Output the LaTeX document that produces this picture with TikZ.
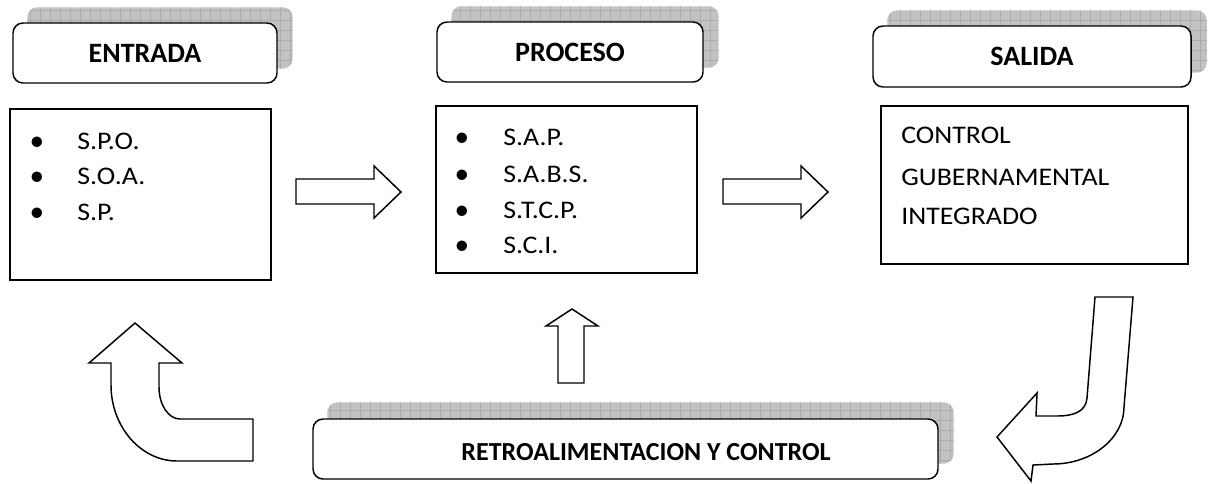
\documentclass[tikz,border=0pt]{standalone}
\usepackage{fontspec}
\setmainfont{Carlito}
\newfontfamily\bodyfont[FakeStretch=1.1]{Carlito}
\usetikzlibrary{backgrounds}
\begin{document}
\begin{tikzpicture}[x=0.75pt,y=-0.75pt,
  outline/.style={line width=1.1pt, line join=miter},
  header/.style={draw, fill=white, outline, rounded corners=7.5pt, inner sep=0pt,
    font=\bfseries\fontsize{21}{25}\selectfont},
  panel/.style={draw, fill=white, outline, inner sep=0pt},
  hatchshadow/.style={fill=gray!48, rounded corners=7.5pt,
    path picture={\draw[gray!66, line width=0.5pt]
      (path picture bounding box.south west) grid[step=7.5pt]
      (path picture bounding box.north east);}},
  item/.style={anchor=base west, inner sep=0pt, font=\bodyfont\fontsize{19}{22}\selectfont},
  dot/.style={anchor=base, inner sep=0pt, font=\fontsize{22}{24}\selectfont},
  blockarrow/.style={draw, fill=white, outline}
]
\useasboundingbox (0,0) rectangle (1212,483);

% header boxes
\node[header, minimum width=198pt, minimum height=45pt] (eh) at (145,53) {ENTRADA};
\node[header, minimum width=199.5pt, minimum height=45pt] (ph) at (570,52) {PROCESO};
\node[header, minimum width=238.5pt, minimum height=45.75pt] (sh) at (1032,56.5) {SALIDA};
\node[header, minimum width=468.75pt, minimum height=45pt] (rh) at (625.5,449) {};
\node[inner sep=0pt, font=\bfseries\fontsize{19.5}{23}\selectfont] (rt) at (646,452) {RETROALIMENTACION Y CONTROL};

% hatched shadows behind the headers
\begin{scope}[on background layer]
  \foreach \n in {eh,ph,sh}
    \path[hatchshadow] ([shift={(15,-15)}]\n.south west) rectangle ([shift={(15,-15)}]\n.north east);
  \path[hatchshadow] ([shift={(15,-16)}]rh.south west) rectangle ([shift={(15,-16)}]rh.north east);
\end{scope}

% content panels
\node[panel, minimum width=195.75pt, minimum height=128.25pt] (eb) at (140.5,194.5) {};
\node[panel, minimum width=195.75pt, minimum height=125.25pt] (pb) at (566.5,189.5) {};
\node[panel, minimum width=230.25pt, minimum height=118.5pt] (sb) at (1034.5,185) {};

% ENTRADA items
\node[dot] (e1b) at (37,150) {•};
\node[item] (e1) at (77,149) {S.P.O.};
\node[dot] (e2b) at (37,185) {•};
\node[item] (e2) at (77,184) {S.O.A.};
\node[dot] (e3b) at (37,221) {•};
\node[item] (e3) at (77,220) {S.P.};

% PROCESO items
\node[dot] (p1b) at (462,146) {•};
\node[item] (p1) at (503,145) {S.A.P.};
\node[dot] (p2b) at (462,183) {•};
\node[item] (p2) at (503,182) {S.A.B.S.};
\node[dot] (p3b) at (462,219) {•};
\node[item] (p3) at (503,218) {S.T.C.P.};
\node[dot] (p4b) at (462,254) {•};
\node[item] (p4) at (503,253) {S.C.I.};

% SALIDA text
\node[item] (s1) at (901,143) {CONTROL};
\node[item] (s2) at (901,185) {GUBERNAMENTAL};
\node[item] (s3) at (901,224) {INTEGRADO};

% straight block arrows
\draw[blockarrow] (296,179) -- (374,179) -- (374,166) -- (401,192) -- (374,218) -- (374,204) -- (296,204) -- cycle;
\draw[blockarrow] (723,179) -- (801,179) -- (801,166) -- (828,192) -- (801,218) -- (801,204) -- (723,204) -- cycle;
\draw[blockarrow] (572,309) -- (598,326) -- (584,326) -- (584,383) -- (558,383) -- (558,326) -- (546,326) -- cycle;

% curved block arrow on the left (pointing up)
\draw[blockarrow] (135,323) -- (182,363) -- (159,363) -- (159,387)
  .. controls (159,405) and (168.5,419) .. (180,419)
  -- (253,419) -- (253,461) -- (177,461)
  .. controls (141,461) and (111,427) .. (111,385)
  -- (111,363) -- (89,363) -- cycle;

% curved block arrow on the right (pointing left)
\draw[blockarrow] (1095,297) -- (1087,398)
  .. controls (1086,412) and (1073,416) .. (1057,416)
  -- (1036,416) -- (1037,393) -- (997,437) -- (1031,481) -- (1033,465) -- (1053,464)
  .. controls (1092,464) and (1124,438) .. (1124,407)
  -- (1133,297) -- cycle;
\end{tikzpicture}
\end{document}
